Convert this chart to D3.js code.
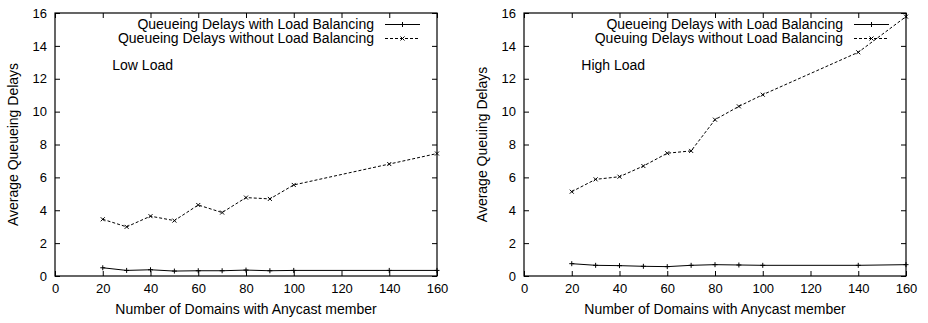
<!DOCTYPE html>
<html>
<head>
<meta charset="utf-8">
<script src="https://cdn.jsdelivr.net/npm/d3@7"></script>
<style>
  body { margin: 0; background: #fff; }
  svg text { font-family: "Liberation Sans", Arial, sans-serif; fill: #000; }
</style>
</head>
<body>
<div class="canvas"></div>
<script>
// data
const domains = [20, 30, 40, 50, 60, 70, 80, 90, 100, 140, 160];

const lowWith    = [0.50, 0.34, 0.38, 0.30, 0.32, 0.32, 0.36, 0.32, 0.34, 0.34, 0.34];
const lowWithout = [3.45, 2.99, 3.64, 3.37, 4.32, 3.86, 4.77, 4.69, 5.54, 6.81, 7.45];

const highWith    = [0.75, 0.65, 0.63, 0.59, 0.57, 0.65, 0.69, 0.67, 0.65, 0.65, 0.69];
const highWithout = [5.13, 5.88, 6.04, 6.69, 7.47, 7.61, 9.51, 10.32, 11.03, 13.61, 15.78];

const xTicks = [0, 20, 40, 60, 80, 100, 120, 140, 160];
const yTicks = [0, 2, 4, 6, 8, 10, 12, 14, 16];

const panels = [
    {
        left: 55, note: 'Low Load', yLabel: 'Average Queueing Delays',
        legend: ['Queueing Delays with Load Balancing', 'Queueing Delays without Load Balancing'],
        withLB: lowWith, withoutLB: lowWithout
    },
    {
        left: 524, note: 'High Load', yLabel: 'Average Queuing Delays',
        legend: ['Queueing Delays with Load Balancing', 'Queuing Delays without Load Balancing'],
        withLB: highWith, withoutLB: highWithout
    }
];

const dims = { width: 382, top: 13, height: 263 };

const svg = d3.select('.canvas')
    .append('svg')
    .attr('width', 928)
    .attr('height', 323)
;

const plusMark = (g, x, y) => {
    g.append('path')
        .attr('d', `M${x - 2.5},${y}H${x + 2.5}M${x},${y - 2.5}V${y + 2.5}`)
        .attr('stroke', '#000').attr('stroke-width', 1);
};
const crossMark = (g, x, y) => {
    g.append('path')
        .attr('d', `M${x - 2},${y - 2}L${x + 2},${y + 2}M${x - 2},${y + 2}L${x + 2},${y - 2}`)
        .attr('stroke', '#000').attr('stroke-width', 1);
};

const drawPanel = (p) => {
    const graph = svg.append('g')
        .attr('transform', `translate(${p.left}, ${dims.top})`);

    const x = d3.scaleLinear().domain([0, 160]).range([0, dims.width]);
    const y = d3.scaleLinear().domain([0, 16]).range([dims.height, 0]);

    // axes, ticks pointing inward on all four sides
    const styleAxis = g => {
        g.select('.domain').remove();
        g.selectAll('line').attr('stroke', '#000');
        g.selectAll('text').attr('font-size', 13);
    };

    graph.append('g')
        .attr('transform', `translate(0, ${dims.height})`)
        .call(d3.axisBottom(x).tickValues(xTicks).tickSize(-5).tickPadding(8))
        .call(styleAxis);
    graph.append('g')
        .call(d3.axisTop(x).tickValues(xTicks).tickSize(-5).tickFormat(''))
        .call(styleAxis);
    graph.append('g')
        .call(d3.axisLeft(y).tickValues(yTicks).tickSize(-5).tickPadding(8))
        .call(styleAxis);
    graph.append('g')
        .attr('transform', `translate(${dims.width}, 0)`)
        .call(d3.axisRight(y).tickValues(yTicks).tickSize(-5).tickFormat(''))
        .call(styleAxis);

    graph.selectAll('.tick text').attr('font-family', null);

    graph.append('rect')
        .attr('width', dims.width)
        .attr('height', dims.height)
        .attr('fill', 'none')
        .attr('stroke', '#000')
        .attr('stroke-width', 1.2);

    // series
    const line = d3.line()
        .x(d => x(d[0]))
        .y(d => y(d[1]));

    const withPts = domains.map((d, i) => [d, p.withLB[i]]);
    const withoutPts = domains.map((d, i) => [d, p.withoutLB[i]]);

    graph.append('path')
        .datum(withPts)
        .attr('d', line)
        .attr('fill', 'none')
        .attr('stroke', '#000')
        .attr('stroke-width', 1);
    withPts.forEach(d => plusMark(graph, x(d[0]), y(d[1])));

    graph.append('path')
        .datum(withoutPts)
        .attr('d', line)
        .attr('fill', 'none')
        .attr('stroke', '#000')
        .attr('stroke-width', 1)
        .attr('stroke-dasharray', '3,2');
    withoutPts.forEach(d => crossMark(graph, x(d[0]), y(d[1])));

    // legend
    const lg = graph.append('g');
    p.legend.forEach((t, i) => {
        const ly = 11.5 + i * 14;
        lg.append('text')
            .attr('x', dims.width - 63)
            .attr('y', ly + 4.5)
            .attr('text-anchor', 'end')
            .attr('font-size', 14)
            .text(t);
        lg.append('line')
            .attr('x1', dims.width - 52).attr('x2', dims.width - 17)
            .attr('y1', ly).attr('y2', ly)
            .attr('stroke', '#000')
            .attr('stroke-width', 1)
            .attr('stroke-dasharray', i ? '3,2' : null);
        if (i) crossMark(lg, dims.width - 34.5, ly);
        else plusMark(lg, dims.width - 34.5, ly);
    });

    graph.append('text')
        .attr('x', x(24))
        .attr('y', 57)
        .attr('font-size', 14)
        .text(p.note);

    // axis titles
    graph.append('text')
        .attr('x', dims.width / 2)
        .attr('y', 301)
        .attr('text-anchor', 'middle')
        .attr('font-size', 14)
        .text('Number of Domains with Anycast member');

    graph.append('text')
        .attr('transform', `translate(-37, ${dims.height / 2}) rotate(-90)`)
        .attr('text-anchor', 'middle')
        .attr('font-size', 14)
        .text(p.yLabel);
};

panels.forEach(drawPanel);
</script>
</body>
</html>
